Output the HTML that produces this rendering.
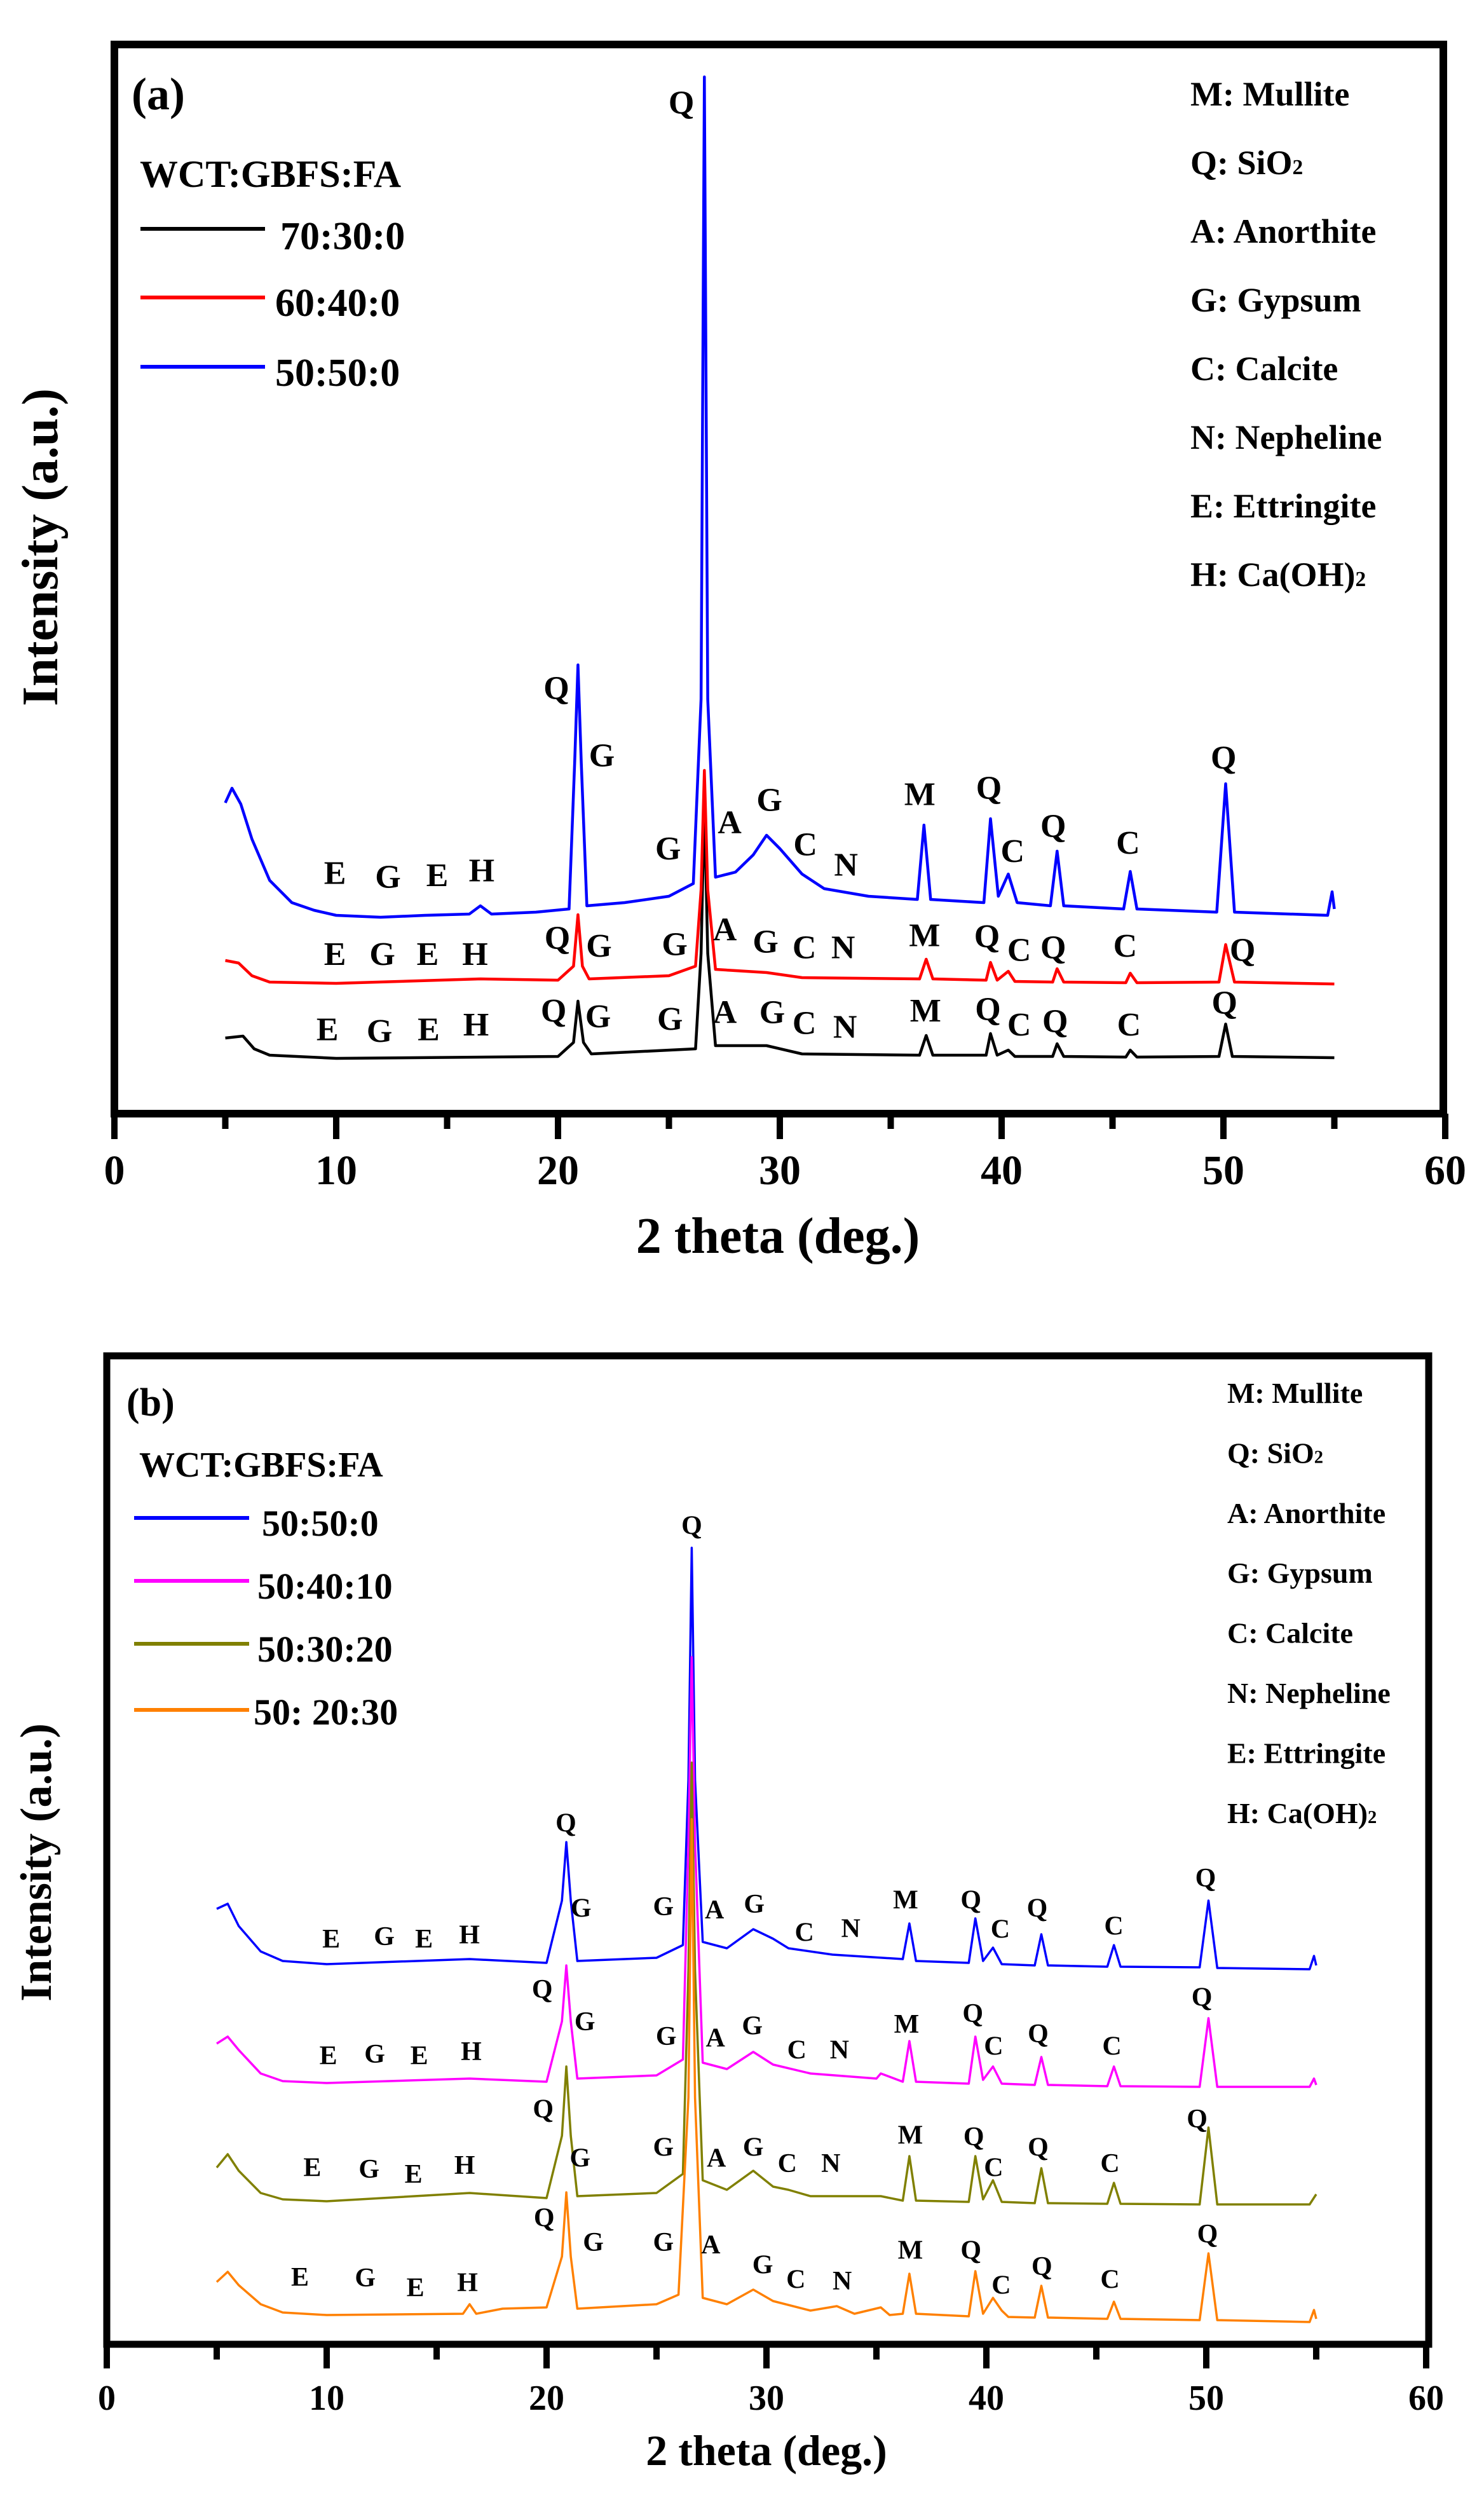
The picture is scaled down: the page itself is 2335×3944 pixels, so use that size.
<!DOCTYPE html>
<html><head><meta charset="utf-8"><style>
html,body{margin:0;padding:0;background:#fff;}
svg{display:block;}
text{font-family:"Liberation Serif",serif;font-weight:bold;fill:#000;}
</style></head><body>
<svg id="fig" width="2335" height="3944" viewBox="0 0 2335 3944" xmlns="http://www.w3.org/2000/svg">
<rect width="2335" height="3944" fill="#fff"/>
<g id="pa"></g>
<g id="pb"></g>
</svg>
<script>
// ---------- DATA ----------
const xTicks = [0,10,20,30,40,50,60];
const minorTicks = [5,15,25,35,45,55];
const phaseLegend = ["M: Mullite","Q: SiO|2","A: Anorthite","G: Gypsum","C: Calcite","N: Nepheline","E: Ettringite","H: Ca(OH)|2"];

const aNames = ["70:30:0","60:40:0","50:50:0"];
const aColors = ["#000000","#ff0000","#0000ff"];
const a5050 = [[5,489],[5.3,512],[5.7,487],[6.2,432],[7,367],[8,332],[9,320],[10,312],[12,309],[14,312],[16,314],[16.5,327],[17,314],[19,317],[20.5,322],[20.75,552],[20.9,706],[21.05,552],[21.3,327],[23,332],[25,342],[26.1,362],[26.45,652],[26.6,1631],[26.75,652],[27.1,372],[28,380],[28.8,407],[29.4,438],[30,417],[31,377],[32,354],[34,342],[36.2,337],[36.5,454],[36.8,337],[39.2,332],[39.5,464],[39.85,342],[40.3,377],[40.7,332],[42.2,327],[42.5,413],[42.8,327],[45.5,322],[45.8,381],[46.1,322],[49.7,317],[50.1,519],[50.5,317],[54.7,312],[54.9,349],[55,322]];
const a6040 = [[5,241],[5.6,237],[6.2,217],[7,207],[10,205],[16.5,212],[20,210],[20.7,232],[20.9,313],[21.1,232],[21.4,212],[25,217],[26.2,232],[26.45,352],[26.6,540],[26.75,352],[27.1,227],[29.4,222],[31,214],[36.3,212],[36.6,243],[36.9,212],[39.3,210],[39.5,238],[39.8,210],[40.3,224],[40.6,208],[42.3,207],[42.5,228],[42.8,207],[45.6,206],[45.8,221],[46.1,206],[49.8,207],[50.1,266],[50.5,207],[55,204]];
const a7030 = [[5,119],[5.8,122],[6.3,102],[7,92],[10,87],[20,90],[20.7,112],[20.9,177],[21.15,112],[21.5,94],[26.2,102],[26.45,252],[26.6,492],[26.75,252],[27.1,107],[29.4,107],[31,94],[36.3,92],[36.6,123],[36.9,92],[39.3,92],[39.5,126],[39.8,92],[40.3,100],[40.6,90],[42.3,90],[42.5,110],[42.8,90],[45.6,89],[45.8,100],[46.1,89],[49.8,90],[50.1,141],[50.4,90],[55,88]];

const bNames = ["50:50:0","50:40:10","50:30:20","50: 20:30"];
const bColors = ["#0000ff","#ff00ff","#808000","#ff8000"];
const b5050 = [[5,685],[5.5,693],[6,658],[7,618],[8,603],[10,598],[16.5,606],[20,600],[20.7,698],[20.9,790],[21.1,698],[21.4,603],[25,608],[26.2,628],[26.45,888],[26.6,1253],[26.75,888],[27.1,633],[28.2,623],[29.4,653],[30.3,638],[31,623],[33,613],[36.2,606],[36.5,662],[36.8,603],[39.2,600],[39.5,670],[39.85,603],[40.3,624],[40.7,598],[42.2,596],[42.5,645],[42.8,596],[45.5,594],[45.8,628],[46.1,594],[49.7,593],[50.1,698],[50.5,592],[54.7,590],[54.9,611],[55,596]];
const b5040 = [[5,473],[5.5,484],[6,463],[7,426],[8,414],[10,411],[16.5,418],[20,413],[20.7,508],[20.9,596],[21.1,508],[21.4,418],[25,423],[26.2,448],[26.45,788],[26.6,1081],[26.75,788],[27.1,443],[28.2,433],[29.4,460],[30.3,440],[32,426],[35,418],[35.2,426],[36.2,413],[36.5,477],[36.8,413],[39.2,410],[39.5,484],[39.85,416],[40.3,437],[40.7,410],[42.2,408],[42.5,452],[42.8,408],[45.5,406],[45.8,437],[46.1,406],[49.7,405],[50.1,513],[50.5,405],[54.7,405],[54.9,418],[55,408]];
const b5030 = [[5,278],[5.5,299],[6,273],[7,238],[8,228],[10,225],[16.5,238],[20,230],[20.7,328],[20.9,437],[21.1,328],[21.4,233],[25,238],[26.2,268],[26.45,588],[26.6,915],[26.75,588],[27.1,258],[28.2,243],[29.4,273],[30.3,248],[31,243],[32,233],[35.2,233],[36.2,226],[36.5,296],[36.8,226],[39.2,224],[39.5,296],[39.85,228],[40.3,258],[40.7,224],[42.2,222],[42.5,277],[42.8,222],[45.5,221],[45.8,254],[46.1,221],[49.7,220],[50.1,341],[50.5,220],[54.7,220],[55,236]];
const b5020 = [[5,98],[5.5,114],[6,93],[7,63],[8,50],[10,46],[16.2,48],[16.5,63],[16.8,48],[18,56],[20,58],[20.7,138],[20.9,239],[21.1,138],[21.4,56],[25,63],[26,78],[26.45,388],[26.6,826],[26.75,388],[27.1,73],[28.2,63],[29.4,86],[30.3,68],[32,53],[33.2,60],[34,48],[35.2,58],[35.6,46],[36.2,48],[36.5,111],[36.8,48],[39.2,44],[39.5,115],[39.85,48],[40.3,73],[40.7,53],[41,43],[42.2,42],[42.5,92],[42.8,42],[45.5,40],[45.8,67],[46.1,40],[49.7,38],[50.1,143],[50.5,38],[54.7,35],[54.9,54],[55,40]];

// peak annotations [letter, dispX, dispY] (reference-sampled positions)
const aLblBlue = [["Q",720,140],["Q",588,862],["G",636,945],["G",706,1060],["A",771,1028],["G",813,1000],["C",851,1055],["N",894,1080],["M",972,993],["Q",1045,985],["C",1070,1063],["Q",1113,1032],["C",1192,1053],["Q",1293,948],["E",354,1090],["G",410,1095],["E",462,1093],["H",509,1087]];
const aLblRed = [["E",354,1190],["G",404,1190],["E",452,1190],["H",502,1190],["Q",589,1170],["G",633,1180],["G",713,1178],["A",766,1160],["G",809,1175],["C",850,1182],["N",891,1182],["M",977,1167],["Q",1043,1168],["C",1077,1185],["Q",1113,1182],["C",1189,1180],["Q",1313,1185]];
const aLblBlack = [["E",346,1283],["G",401,1285],["E",453,1283],["H",503,1277],["Q",585,1260],["G",632,1267],["G",708,1270],["A",766,1262],["G",816,1262],["C",850,1275],["N",893,1280],["M",978,1260],["Q",1044,1258],["C",1077,1277],["Q",1115,1273],["C",1193,1277],["Q",1294,1250]];
const bLbl = [["Q",731,368],["Q",598,735],["G",614,840],["G",701,838],["A",755,842],["G",797,835],["C",850,870],["N",899,865],["M",957,830],["Q",1026,830],["C",1057,866],["Q",1096,840],["C",1177,862],["Q",1274,803],["E",350,878],["G",406,875],["E",448,878],["H",496,873],
["Q",573,940],["G",618,980],["G",704,998],["A",756,1000],["G",795,985],["C",842,1015],["N",887,1015],["M",958,983],["Q",1028,970],["C",1050,1010],["Q",1097,995],["C",1175,1010],["Q",1270,950],["E",347,1022],["G",396,1020],["E",443,1022],["H",498,1017],
["Q",574,1088],["G",613,1148],["G",701,1135],["A",757,1148],["G",796,1135],["C",832,1155],["N",878,1155],["M",962,1120],["Q",1029,1122],["C",1050,1160],["Q",1097,1135],["C",1173,1155],["Q",1265,1100],["E",330,1160],["G",390,1162],["E",437,1168],["H",491,1157],
["Q",575,1222],["G",627,1252],["G",701,1252],["A",751,1255],["G",806,1280],["C",841,1298],["N",890,1300],["M",962,1262],["Q",1026,1262],["C",1058,1305],["Q",1101,1282],["C",1173,1298],["Q",1276,1242],["E",317,1295],["G",386,1296],["E",439,1308],["H",494,1302]];

// ---------- DRAW ----------
const NS="http://www.w3.org/2000/svg";
function mk(tag, parent, attrs){const e=document.createElementNS(NS,tag);for(const k in attrs)e.setAttribute(k,attrs[k]);parent.appendChild(e);return e;}

function drawPanel(g, P){
  const xs = t => P.x0 + t*P.xs;
  const ys = v => P.yb - v;
  // frame
  const fr = mk('rect', g, {x:P.L,y:P.T,width:P.R-P.L,height:P.yb-P.T,fill:'none',stroke:'#000','stroke-width':P.fw});
  
  
  xTicks.forEach(t=>{
    const l=mk('line',g,{x1:xs(t),x2:xs(t),y1:P.yb,y2:P.yb+P.tick,stroke:'#000','stroke-width':10});
    
    
    const tx=mk('text',g,{x:xs(t),y:P.tickY,'font-size':P.tfs,'text-anchor':'middle'});
    tx.textContent=t;
    
    
  });
  minorTicks.forEach(t=>{
    const l=mk('line',g,{x1:xs(t),x2:xs(t),y1:P.yb,y2:P.yb+P.mtick,stroke:'#000','stroke-width':10});
    
    
  });
  const xt=mk('text',g,{x:P.xtX,y:P.xtY,'font-size':P.xtfs,'text-anchor':'middle'});
  xt.textContent='2 theta (deg.)';
  
  
  const yt=mk('text',g,{x:0,y:0,'font-size':P.ytfs,'text-anchor':'middle',transform:`translate(${P.ytX},${P.ytY}) rotate(-90)`});
  yt.textContent='Intensity (a.u.)';
  
  
  const pl=mk('text',g,{x:P.plX,y:P.plY,'font-size':P.plfs,transform:P.sy});
  pl.textContent=P.panelLabel;
  
  
  // legend
  const wt=mk('text',g,{x:P.lgX,y:P.lgTY,'font-size':P.lgfs,transform:P.sy});
  wt.textContent='WCT:GBFS:FA';
  
  
  P.names.forEach((n,i)=>{
    const ln=mk('line',g,{x1:P.lgL1,x2:P.lgL2,y1:P.lgLineY[i],y2:P.lgLineY[i],stroke:P.colors[i],'stroke-width':6});
    
    
    const t=mk('text',g,{x:P.lgTxtX[i],y:P.lgTxtY[i],'font-size':P.lgfs+2,transform:P.sy});
    t.textContent=n;
    
    
  });
  phaseLegend.forEach((s,i)=>{
    const parts=s.split('|');
    const t=mk('text',g,{x:P.phX,y:P.phY0+i*P.phDy,'font-size':P.phfs,transform:P.sy});
    t.textContent=parts[0];
    if(parts[1]){const sp=mk('tspan',t,{'font-size':P.phfs*0.62});sp.textContent=parts[1];}
    
    
  });
  // series
  P.series.forEach((s,i)=>{
    const d=s.pts.map((p,j)=>(j?'L':'M')+xs(p[0]).toFixed(1)+' '+ys(p[1]).toFixed(1)).join(' ');
    const path=mk('path',g,{d:d,fill:'none',stroke:s.color,'stroke-width':P.lw,'stroke-linejoin':'round'});
    
    
  });
  // annotations
  P.labels.forEach(arr=>arr.forEach(l=>{
    const t=mk('text',g,{x:l[1]*1.489,y:P.dyOff+l[2]*1.2755,'font-size':P.lblfs,'text-anchor':'middle'});
    t.textContent=l[0];
    
    
  }));
}

drawPanel(document.getElementById('pa'),{
  L:180,T:70,R:2271,yb:1752,fw:12,x0:180,xs:34.9,tick:40,mtick:24,tickY:1863,tfs:66,
  xtX:1224,xtY:1971,xtfs:80,ytX:90,ytY:861,ytfs:80,plX:207,plY:172,plfs:72,panelLabel:'(a)',sy:'',
  lgX:220,lgTY:294,lgfs:60,lgL1:221,lgL2:417,lgLineY:[360,468,577],lgTxtX:[441,433,433],lgTxtY:[392,497,607],
  names:aNames,colors:aColors,phX:1873,phY0:166,phDy:108,phfs:54,lw:4.5,lblfs:52,dyOff:0,
  series:[{name:aNames[2],color:aColors[2],pts:a5050},{name:aNames[0],color:aColors[0],pts:a7030},{name:aNames[1],color:aColors[1],pts:a6040}],
  labels:[aLblBlue,aLblRed,aLblBlack]
});
drawPanel(document.getElementById('pb'),{
  L:168,T:2133,R:2248,yb:3688,fw:11,x0:168,xs:34.6,tick:38,mtick:24,tickY:3791,tfs:56,
  xtX:1206,xtY:3878,xtfs:68,ytX:80,ytY:2930,ytfs:70,plX:199,plY:2227,plfs:62,panelLabel:'(b)',sy:'',
  lgX:219,lgTY:2323,lgfs:56,lgL1:211,lgL2:392,lgLineY:[2388,2487,2586,2690],lgTxtX:[412,405,405,399],lgTxtY:[2416,2515,2614,2713],
  names:bNames,colors:bColors,phX:1931,phY0:2207,phDy:94.4,phfs:46,lw:3.5,lblfs:42,dyOff:1944,
  series:[{name:bNames[0],color:bColors[0],pts:b5050},{name:bNames[1],color:bColors[1],pts:b5040},{name:bNames[2],color:bColors[2],pts:b5030},{name:bNames[3],color:bColors[3],pts:b5020}],
  labels:[bLbl]
});
</script>
</body></html>
